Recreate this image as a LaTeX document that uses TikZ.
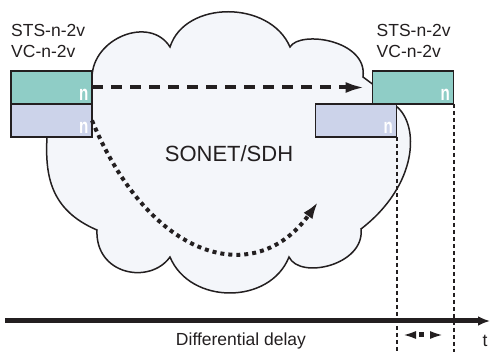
\documentclass[tikz,border=0pt]{standalone}
\usepackage{fontspec}
\setmainfont{Liberation Sans}
\newfontfamily\narrowbf[FakeStretch=0.72]{Liberation Sans Bold}
\usetikzlibrary{arrows.meta,positioning}

\definecolor{ink}{HTML}{231F20}
\definecolor{tealfill}{HTML}{8FCDC6}
\definecolor{lavfill}{HTML}{CCD3EA}
\definecolor{cloudfill}{HTML}{F4F6FA}

\tikzset{
  vcbox/.style={
    draw=ink, line width=1.6pt, anchor=north west,
    minimum width=81pt, minimum height=33pt,
    inner sep=0pt, outer sep=0pt,
  },
  tealbox/.style={vcbox, fill=tealfill},
  lavbox/.style={vcbox, fill=lavfill},
  nmark/.style={
    anchor=base east, inner sep=0pt, text=white,
    font=\narrowbf\fontsize{21}{21}\selectfont,
  },
  lbl/.style={
    inner sep=0pt, text=ink,
    font=\fontsize{17.5}{21}\selectfont,
  },
  cloud/.style={draw=ink, fill=cloudfill, line width=1.5pt},
  fastpath/.style={
    draw=ink, line width=4pt, dash pattern=on 11pt off 8pt,
    -{Latex[length=20pt,width=11pt]}, shorten >=7pt,
  },
  slowpath/.style={
    draw=ink, line width=4pt, dash pattern=on 4pt off 4pt,
    -{Latex[length=17pt,width=11pt]},
  },
  timeaxis/.style={draw=ink, line width=5pt, -{Latex[length=12pt,width=10pt]}},
  guide/.style={draw=ink, line width=2pt, dash pattern=on 4pt off 3pt},
  skew/.style={
    draw=ink, line width=5pt, dash pattern=on 0pt off 4.5pt on 5pt off 20pt,
    {Latex[length=14pt,width=8pt]}-{Latex[length=14pt,width=8pt]},
  },
}

\begin{document}
\begin{tikzpicture}[x=1pt,y=-1pt]
    \useasboundingbox (0,0) rectangle (491,352);

    % network cloud (closing edges hide behind the boxes)
    \path[cloud] (92,78)
        .. controls (92,38) and (150,15) .. (170,47)
        .. controls (185,0) and (270,0) .. (290,47)
        .. controls (300,30) and (368,40) .. (363,77)
        -- (394,100) -- (396,106)
        .. controls (420,125) and (418,185) .. (361,229)
        .. controls (365,265) and (300,280) .. (289,257)
        .. controls (270,305) and (190,305) .. (170,257)
        .. controls (150,285) and (95,275) .. (97,230)
        .. controls (50,210) and (45,175) .. (47,137)
        -- cycle;
    \node[lbl, font=\fontsize{22}{22}\selectfont, anchor=base] (net) at (229,162) {SONET/SDH};

    % member boxes
    \node[tealbox] (leftA) at (11,71) {};
    \node[lavbox] (leftB) at (leftA.south west) {};
    \node[tealbox] (rightA) at (372.5,71) {};
    \node[lavbox, anchor=north east] (rightB) at ([xshift=-57pt]rightA.south east) {};

    \foreach \b in {leftA,leftB,rightA,rightB}
        \node[nmark] (n\b) at ([xshift=-3.5pt,yshift=3pt]\b.south east) {n};

    % group names
    \node[lbl, anchor=base west] (leftVc) at ([yshift=13.7pt]leftA.north west) {VC-n-2v};
    \node[lbl, anchor=base west] (leftSts) at ([yshift=21pt]leftVc.base west) {STS-n-2v};
    \node[lbl, anchor=base west] (rightVc) at ([xshift=4pt,yshift=13.7pt]rightA.north west) {VC-n-2v};
    \node[lbl, anchor=base west] (rightSts) at ([yshift=21pt]rightVc.base west) {STS-n-2v};

    % paths through the network
    \coordinate (slowTip) at (318,202);
    \draw[fastpath] (leftA.east) -- (rightA.west);
    \draw[slowpath] (leftB.east) .. controls (150,260) and (255,290) .. (slowTip);

    % time axis
    \coordinate (axisStart) at (5,321);
    \coordinate (axisEnd)   at (490,321);
    \coordinate (floor)     at (0,352);
    \draw[timeaxis] (axisStart) -- (axisEnd);
    \node[lbl, anchor=base] (delayLbl) at (241,346) {Differential delay};
    \node[lbl, anchor=base] (tLbl) at (485,347) {t};

    % arrival times
    \foreach \b in {rightA,rightB}
        \draw[guide] (\b.south east) -- (\b.south east |- floor);
    \coordinate (skewL) at (402,335);
    \coordinate (skewR) at (444,335);
    \draw[skew] (skewL) -- (skewR);
\end{tikzpicture}
\end{document}
